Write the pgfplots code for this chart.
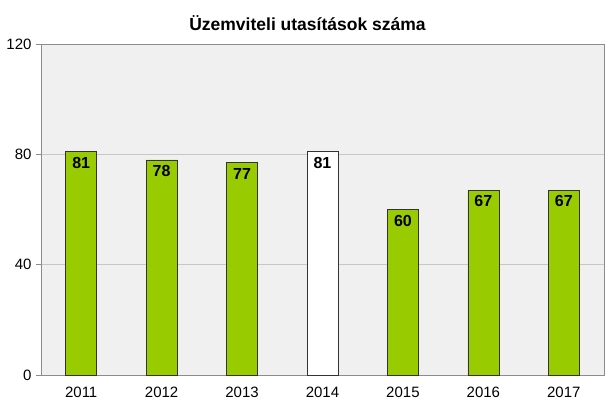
\documentclass[border=0pt]{standalone}
\usepackage{pgfplots}
\pgfplotsset{compat=1.18}
\usepackage{fontspec}
\setmainfont{Liberation Sans}
\definecolor{barg}{HTML}{99CC00}
\definecolor{plotbg}{HTML}{F0F0F0}
\definecolor{frame}{HTML}{8C8C8C}
\begin{document}
\begin{tikzpicture}
\useasboundingbox (-41pt,-38pt) rectangle (567pt,375pt);
\begin{axis}[
  at={(0,0)}, anchor=south west,
  scale only axis, width=563pt, height=331pt,
  xmin=-0.5, xmax=6.5, ymin=0, ymax=120,
  xtick={0,1,2,3,4,5,6},
  xticklabels={2011,2012,2013,2014,2015,2016,2017},
  ytick={0,40,80,120},
  ytick pos=left,
  axis background/.style={fill=plotbg},
  axis line style={frame},
  ymajorgrids, grid style={draw=black!22, line width=0.6pt},
  major x tick style={draw=none},
  major y tick style={frame, line width=0.6pt},
  tick align=outside, major tick length=5pt,
  ticklabel style={font=\fontsize{15}{17}\selectfont},
  yticklabel style={xshift=-1pt},
  xticklabel style={yshift=-3pt},
  /pgf/number format/assume math mode=true,
  title={\bfseries Üzemviteli utasítások száma},
  title style={font=\fontsize{17.5}{19}\selectfont, yshift=4pt, xshift=-15pt},
  ybar, bar width=31pt, bar shift=0pt,
  nodes near coords,
  nodes near coords style={font=\bfseries\fontsize{16}{18}\selectfont, anchor=north, yshift=-2pt, black},
  clip=false,
]
\addplot[fill=barg, draw=black!80, line width=0.6pt] coordinates {(0,81) (1,78) (2,77) (4,60) (5,67) (6,67)};
\addplot[fill=white, draw=black!80, line width=0.6pt] coordinates {(3,81)};
\end{axis}
\end{tikzpicture}
\end{document}
